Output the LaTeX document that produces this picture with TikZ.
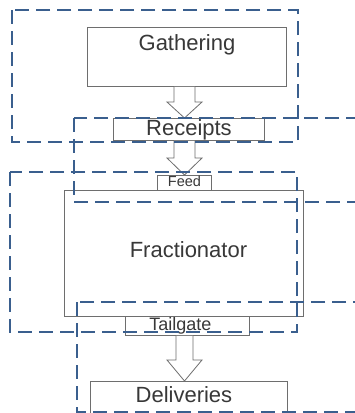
\documentclass[tikz,border=0pt]{standalone}
\usepackage{fontspec}
\setmainfont{Liberation Sans}
\usetikzlibrary{calc}
\definecolor{dashblue}{HTML}{3A5F8E}
\definecolor{boxgray}{HTML}{6E6E6E}
\definecolor{txt}{HTML}{383838}
\tikzset{
  stagebox/.style={draw=boxgray, line width=0.9pt, fill=white, rectangle, inner sep=0pt, text=txt},
  region/.style={draw=dashblue, line width=2.8pt, dash pattern=on 14pt off 7pt},
  arrowst/.style={draw=boxgray, line width=0.8pt, fill=white, line join=miter}
}
\newcommand\hollowarrow[4]{% from node anchor, to node anchor, shaft half width, head length
  \path[arrowst] ($(ax |- #1)+(-#3,0)$) -- ($(ax |- #2)+(-#3,-#4)$) -- ($(ax |- #2)+(-17.5,-#4)$)
    -- (ax |- #2) -- ($(ax |- #2)+(17.5,-#4)$) -- ($(ax |- #2)+(#3,-#4)$) -- ($(ax |- #1)+(#3,0)$);
}
\begin{document}
\begin{tikzpicture}[x=1pt,y=-1pt]
\useasboundingbox (0,0) rectangle (355,413);
\clip (0,0) rectangle (355,413);
\fill[white] (0,0) rectangle (355,413);
\coordinate (ax) at (184.5,0);
% stage boxes
\node[stagebox, anchor=north west, minimum width=199pt, text height=23pt, text depth=36pt,
      font=\fontsize{22}{22}\selectfont] (gath) at (87,27) {Gathering};
\node[stagebox, anchor=north west, minimum width=151pt, text height=17pt, text depth=5pt,
      font=\fontsize{22}{22}\selectfont] (rec) at (113,118) {Receipts};
\node[stagebox, anchor=north west, minimum width=239pt, text height=67pt, text depth=59pt,
      font=\fontsize{22}{22}\selectfont] (frac) at (64,190) {\hspace*{9pt}Fractionator};
\node[stagebox, anchor=north west, minimum width=54pt, text height=11.5pt, text depth=3.5pt,
      font=\fontsize{14.5}{14.5}\selectfont] (feed) at (157,175) {Feed};
\node[stagebox, anchor=north west, minimum width=124pt, text height=14pt, text depth=5pt,
      font=\fontsize{18}{18}\selectfont] (tail) at (125,316) {Tailgate\hspace*{14pt}};
\node[stagebox, anchor=north west, minimum width=197pt, text height=21pt, text depth=22pt,
      font=\fontsize{22}{22}\selectfont] (del) at (90,381) {Deliveries\hspace*{10pt}};
% flow arrows
\hollowarrow{gath.south}{rec.north}{10.5}{16}
\hollowarrow{rec.south}{feed.north}{10.5}{17}
\hollowarrow{tail.south}{del.north}{8.5}{21}
% dashed regions
\draw[region] (12,10) rectangle (298,142);
\draw[region] (74,118) rectangle (385,202);
\draw[region] (10,172) rectangle (297,332);
\draw[region] (77,302) rectangle (385,412);
\end{tikzpicture}
\end{document}
